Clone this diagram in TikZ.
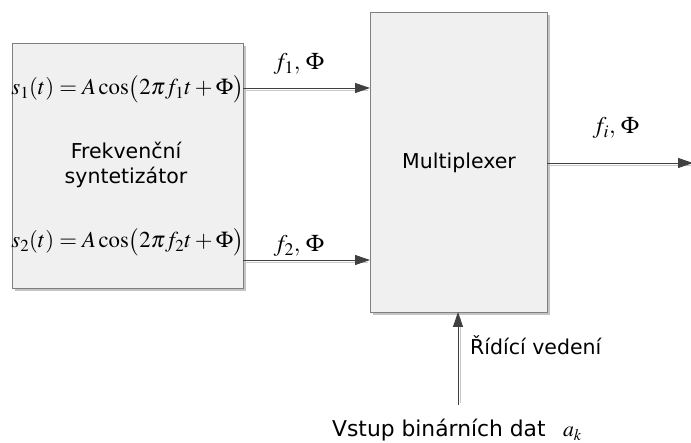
\documentclass[tikz,border=0pt]{standalone}
\usepackage{mathptmx}
\usepackage{fontspec}
\setmainfont{DejaVu Sans}
\usetikzlibrary{arrows.meta}
\definecolor{boxfill}{HTML}{F0F0F0}
\definecolor{boxline}{HTML}{7F7F7F}
\definecolor{shade}{HTML}{C4C4C4}
\definecolor{wire}{HTML}{404040}
\definecolor{wireshade}{HTML}{C8C8C8}
\tikzset{
  block/.style={draw=boxline, line width=0.9pt, fill=boxfill},
  blockshade/.style={fill=shade, draw=none},
  sig/.style={draw=wire, line width=0.9pt, -{Triangle[length=15pt,width=10pt]}},
  sigshade/.style={draw=wireshade, line width=1.2pt},
  lbl/.style={font=\fontsize{20.5}{24}\selectfont, inner sep=0pt},
  eq/.style={font=\fontsize{22.8}{26}\selectfont, inner sep=0pt},
  sigeq/.style={font=\fontsize{24}{27}\selectfont, inner sep=0pt},
}
\begin{document}
\begin{tikzpicture}[x=1pt,y=-1pt]
\useasboundingbox (0,0) rectangle (691,443);

% frequency synthesiser block
\fill[blockshade] (15,46) rectangle (246,291);
\path[block] (12,43) rectangle (243,288);
\coordinate (synthE1) at (243,88);
\coordinate (synthE2) at (243,260);

% multiplexer block
\fill[blockshade] (373,15) rectangle (550,315);
\path[block] (370,12) rectangle (547,312);
\coordinate (muxW1) at (370,88);
\coordinate (muxW2) at (370,260);
\coordinate (muxE) at (547,163);
\coordinate (muxS) at (458,312);
\coordinate (outEnd) at (693,163);
\coordinate (ctrlStart) at (458,405);

% texts inside the synthesiser
\node[eq] (s1) at (127.5,89) {$s_1(t) = A\cos\bigl(2\pi f_1 t + \Phi\bigr)$};
\node[eq] (s2) at (127.5,242) {$s_2(t) = A\cos\bigl(2\pi f_2 t + \Phi\bigr)$};
\node[lbl, align=center] (synth) at (126,165) {Frekvenční\\[1pt]syntetizátor};
\node[lbl] (mux) at (459,163) {Multiplexer};

% signal lines with their light shading
\draw[sigshade] (246,90.5) -- (368,90.5);
\draw[sigshade] (246,262.5) -- (368,262.5);
\draw[sigshade] (550,165.5) -- (691,165.5);
\draw[sigshade] (460.5,403) -- (460.5,318);
\draw[sig] (synthE1) -- (muxW1);
\draw[sig] (synthE2) -- (muxW2);
\draw[sig] (muxE) -- (outEnd);
\draw[sig] (ctrlStart) -- (muxS);

% signal labels
\node[sigeq] (l1) at (299,64) {$f_1,\,\Phi$};
\node[sigeq] (l2) at (299,246) {$f_2,\,\Phi$};
\node[sigeq] (li) at (616,128) {$f_i,\,\Phi$};
\node[lbl, anchor=west] (ctrl) at (470,345) {Řídící vedení};
\node[lbl, font=\fontsize{21.8}{24}\selectfont, anchor=base west] (data) at (332,437)
  {Vstup binárních dat\hspace{0.8em}$a_k$};
\end{tikzpicture}
\end{document}
